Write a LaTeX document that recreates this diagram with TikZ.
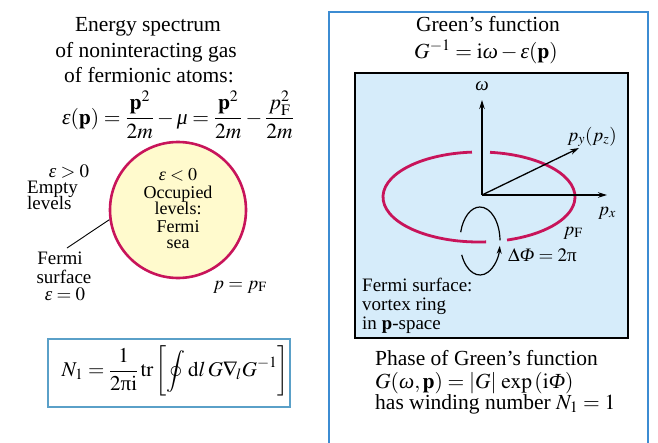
\documentclass[tikz,border=0pt]{standalone}
\usepackage{amsmath}
\usepackage{mathptmx}
\usepackage{fontspec}
\setmainfont{Liberation Serif}
\usetikzlibrary{arrows.meta}
\newcommand{\veps}{\text{\itshape ε}}
\newcommand{\vomega}{\text{\itshape ω}}
\newcommand{\vmu}{\text{\itshape μ}}
\newcommand{\vPhi}{\text{\itshape Φ}}
\newcommand{\vpi}{\text{π}}
\definecolor{crim}{RGB}{200,20,90}
\definecolor{frameblue}{RGB}{60,140,210}
\definecolor{boxblue}{RGB}{90,160,200}
\definecolor{skyfill}{RGB}{214,236,250}
\definecolor{creamfill}{RGB}{255,250,205}
\begin{document}
\begin{tikzpicture}[x=1pt,y=-1pt,
  ttl/.style={inner sep=0pt, anchor=base, font=\fontsize{21.5}{25}\selectfont},
  ttlw/.style={ttl, anchor=base west},
  lbl/.style={inner sep=0pt, anchor=base, font=\fontsize{19}{22}\selectfont},
  lblw/.style={lbl, anchor=base west},
  cirt/.style={inner sep=0pt, anchor=base, font=\fontsize{18}{20}\selectfont},
  axis/.style={line width=1.3pt, -{Stealth[length=9pt,width=5.5pt]}},
  ringline/.style={draw=crim, line width=2.8pt},
  loopline/.style={line width=1.2pt}]
\useasboundingbox (0,0) rectangle (658,442);

% ---------- left part ----------
\node[ttl] (t1) at (148,31) {Energy spectrum};
\node[ttl] (t2) at (146,57) {of noninteracting gas};
\node[ttl] (t3) at (149,82) {of fermionic atoms:};
\node[inner sep=0pt, font=\fontsize{21.5}{25}\selectfont] (eq1) at (178,115)
  {$\veps(\mathbf{p})=\dfrac{\mathbf{p}^2}{2m}-\vmu=\dfrac{\mathbf{p}^2}{2m}-\dfrac{p_{\mathrm F}^2}{2m}$};

\node[circle, minimum size=136pt, inner sep=0pt, draw=crim, line width=2.6pt, fill=creamfill] (fs) at (178,210) {};
\node[cirt] (c1) at (178,180) {$\veps<0$};
\node[cirt] (c2) at (178,198) {Occupied};
\node[cirt] (c3) at (178,214) {levels:};
\node[cirt] (c4) at (178,232) {Fermi};
\node[cirt] (c5) at (178,248) {sea};

\node[lbl] (e1) at (69,177) {$\veps>0$};
\node[lblw] (e2) at (27,193) {Empty};
\node[lblw] (e3) at (27,209) {levels};

\node[lbl] (f1) at (60,264) {Fermi};
\node[lbl] (f2) at (64,283) {surface};
\node[lbl] (f3) at (65,300) {$\veps=0$};
\coordinate (lead) at (67,248);
\draw[line width=0.9pt] (lead) -- (fs.188);

\node[lbl] (pf) at (240,289) {$p=p_{\mathrm F}$};

\node[draw=boxblue, line width=2pt, fill=white, minimum width=242pt, minimum height=68pt, inner sep=0pt] (nbox) at (169,373) {};
\node[inner sep=0pt, font=\fontsize{21}{25}\selectfont] (n1) at (175,371)
  {$\displaystyle N_1=\frac{1}{2\vpi\mathrm{i}}\,\mathrm{tr}\left[\oint \mathrm{d}l\,G\nabla_{\!l}G^{-1}\right]$};

% ---------- right part ----------
\draw[draw=frameblue, line width=2.2pt] (329,446) -- (329,12) -- (648,12) -- (648,446);
\node[ttl] (g1) at (488,31) {Green’s function};
\node[ttl] (g2) at (486,58) {$G^{-1}=\mathrm{i}\vomega-\veps(\mathbf{p})$};

\node[draw=black, line width=2pt, fill=skyfill, minimum width=273pt, minimum height=265pt, inner sep=0pt] (panel) at (491.5,205.5) {};

% ring
\draw[ringline] (479,197) ++(276.6:96 and 45) arc[start angle=276.6, end angle=433, x radius=96, y radius=45];
\draw[ringline] (479,197) ++(85.8:96 and 45) arc[start angle=85.8, end angle=265.8, x radius=96, y radius=45];

% axes
\coordinate (o) at (482,195);
\coordinate (wtip) at (482,100);
\coordinate (xtip) at (607,195);
\coordinate (ytip) at (579,148);
\draw[axis] (o) -- (wtip);
\draw[axis] (o) -- (xtip);
\draw[axis] (o) -- (ytip);
\node[lbl] (lw) at (482,90) {$\vomega$};
\node[lbl] (lx) at (607,215) {$p_x$};
\node[lbl] (ly) at (592,141) {$p_y(p_z)$};
\node[lbl] (lpf) at (573,235) {$p_{\mathrm F}$};

% loop arrow
\draw[loopline, -{Stealth[length=8pt,width=5pt]}] (480,241) ++(156:20 and 34) arc[start angle=156, end angle=8, x radius=20, y radius=34];
\draw[loopline] (480,241) ++(-1:20 and 34) arc[start angle=-1, end angle=-165, x radius=20, y radius=34];
\node[lblw] (dphi) at (508,261) {$\Delta\vPhi=2\vpi$};

\node[lblw] (v1) at (362,291) {Fermi surface:};
\node[lblw] (v2) at (362,310) {vortex ring};
\node[lblw] (v3) at (362,329) {in $\mathbf{p}$-space};

\node[ttlw] (b1) at (375,365) {Phase of Green’s function};
\node[ttlw] (b2) at (375,388) {$G(\vomega,\mathbf{p})=|G|\,\exp\left(\mathrm{i}\vPhi\right)$};
\node[ttlw] (b3) at (375,409) {has winding number $N_1=1$};
\end{tikzpicture}
\end{document}
